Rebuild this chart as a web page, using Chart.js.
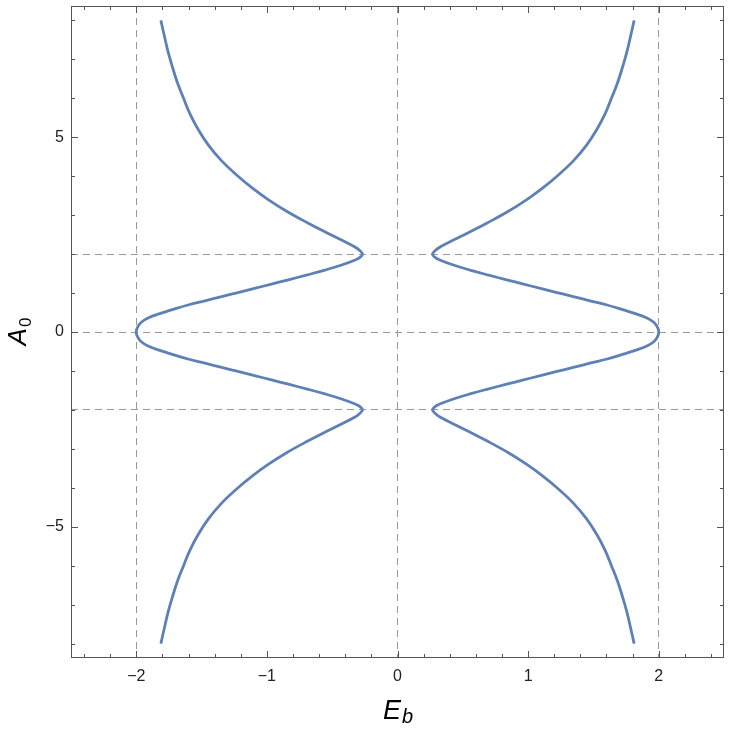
<!DOCTYPE html>
<html lang="en">
<head>
    <meta charset="UTF-8">
    <title>E_b vs A_0</title>
    <script src="https://cdn.jsdelivr.net/npm/chart.js@4.4.1/dist/chart.umd.min.js"></script>
    <style>
        html, body { margin: 0; padding: 0; background: #fff; }
        #wrap { position: relative; width: 731px; height: 730px; }
    </style>
</head>
<body>
    <div id="wrap"><canvas id="myChart"></canvas></div>

    <script>
        // A0 values along each branch (top to bottom)
        const a0Values = [8, 7.6, 7.2, 6.8, 6.4, 6, 5.6, 5.2, 4.8, 4.4, 4, 3.7, 3.4, 3.1, 2.8, 2.55, 2.36, 2.19, 2.09, 2,
            1.92, 1.85, 1.72, 1.59, 1.46, 1.34, 1.23, 1.12, 1.02, 0.91, 0.8, 0.7, 0.56, 0.485, 0.36, 0.25, 0.15, 0.07, 0,
            -0.07, -0.15, -0.25, -0.36, -0.485, -0.56, -0.7, -0.8, -0.91, -1.02, -1.12, -1.23, -1.34, -1.46, -1.59, -1.72, -1.85, -1.92,
            -2, -2.09, -2.19, -2.36, -2.55, -2.8, -3.1, -3.4, -3.7, -4, -4.4, -4.8, -5.2, -5.6, -6, -6.4, -6.8, -7.2, -7.6, -8];

        // Eb
        const ebRight = [1.812, 1.785, 1.757, 1.723, 1.685, 1.638, 1.589, 1.526, 1.448, 1.348, 1.221, 1.113, 0.99, 0.849, 0.687, 0.542, 0.428, 0.329, 0.289, 0.268,
            0.285, 0.324, 0.428, 0.555, 0.698, 0.836, 0.965, 1.095, 1.214, 1.346, 1.474, 1.598, 1.737, 1.808, 1.91, 1.962, 1.986, 1.997, 2,
            1.997, 1.986, 1.962, 1.91, 1.808, 1.737, 1.598, 1.474, 1.346, 1.214, 1.095, 0.965, 0.836, 0.698, 0.555, 0.428, 0.324, 0.285,
            0.268, 0.289, 0.329, 0.428, 0.542, 0.687, 0.849, 0.99, 1.113, 1.221, 1.348, 1.448, 1.526, 1.589, 1.638, 1.685, 1.723, 1.757, 1.785, 1.812];

        // Eb
        const ebLeft = [-1.812, -1.785, -1.757, -1.723, -1.685, -1.638, -1.589, -1.526, -1.448, -1.348, -1.221, -1.113, -0.99, -0.849, -0.687, -0.542, -0.428, -0.329, -0.289, -0.268,
            -0.285, -0.324, -0.428, -0.555, -0.698, -0.836, -0.965, -1.095, -1.214, -1.346, -1.474, -1.598, -1.737, -1.808, -1.91, -1.962, -1.986, -1.997, -2,
            -1.997, -1.986, -1.962, -1.91, -1.808, -1.737, -1.598, -1.474, -1.346, -1.214, -1.095, -0.965, -0.836, -0.698, -0.555, -0.428, -0.324, -0.285,
            -0.268, -0.289, -0.329, -0.428, -0.542, -0.687, -0.849, -0.99, -1.113, -1.221, -1.348, -1.448, -1.526, -1.589, -1.638, -1.685, -1.723, -1.757, -1.785, -1.812];

        // ticks and dashed reference lines
        const xTickLabels = [-2, -1, 0, 1, 2];
        const yTickLabels = [-5, 0, 5];
        const xDashed = [-2, 0, 2];
        const yDashed = [-2, 0, 2];

        const curveColor = '#5e81b5';
        const frameColor = '#555';
        const fontFamily = "'Liberation Sans', Arial, sans-serif";

        function fmt(v) {
            return v < 0 ? '\u2212' + Math.abs(v) : String(v);
        }

        // frame with inward ticks on all four sides, plus axis titles with subscripts
        const frameTicks = {
            id: 'frameTicks',
            afterDraw(chart) {
                const { ctx, chartArea: a, scales: { x, y } } = chart;
                ctx.save();
                ctx.strokeStyle = frameColor;
                ctx.lineWidth = 1;
                ctx.strokeRect(Math.round(a.left) + 0.5, Math.round(a.top) + 0.5,
                    Math.round(a.right - a.left) - 1, Math.round(a.bottom - a.top) - 1);

                ctx.beginPath();
                for (let i = -12; i <= 12; i++) {
                    const v = i / 5;
                    const len = i % 5 === 0 ? 7 : 4;
                    const px = Math.round(x.getPixelForValue(v)) + 0.5;
                    ctx.moveTo(px, a.bottom); ctx.lineTo(px, a.bottom - len);
                    ctx.moveTo(px, a.top); ctx.lineTo(px, a.top + len);
                }
                for (let v = -8; v <= 8; v++) {
                    const len = v % 5 === 0 ? 7 : 4;
                    const py = Math.round(y.getPixelForValue(v)) + 0.5;
                    ctx.moveTo(a.left, py); ctx.lineTo(a.left + len, py);
                    ctx.moveTo(a.right, py); ctx.lineTo(a.right - len, py);
                }
                ctx.stroke();

                // x title: E_b
                ctx.fillStyle = '#000';
                ctx.textBaseline = 'alphabetic';
                ctx.font = 'italic 27px ' + fontFamily;
                const wE = ctx.measureText('E').width;
                ctx.font = 'italic 20px ' + fontFamily;
                const wb = ctx.measureText('b').width;
                const cx = (a.left + a.right) / 2;
                let sx = cx - (wE + wb) / 2;
                ctx.font = 'italic 27px ' + fontFamily;
                ctx.fillText('E', sx, a.bottom + 61);
                ctx.font = 'italic 20px ' + fontFamily;
                ctx.fillText('b', sx + wE + 1, a.bottom + 65);

                // y title: A_0 (rotated)
                ctx.save();
                ctx.translate(a.left - 45, (a.top + a.bottom) / 2);
                ctx.rotate(-Math.PI / 2);
                ctx.font = 'italic 26px ' + fontFamily;
                const wA = ctx.measureText('A').width;
                ctx.font = '17px ' + fontFamily;
                const w0 = ctx.measureText('0').width;
                sx = -(wA + w0) / 2;
                ctx.font = 'italic 26px ' + fontFamily;
                ctx.fillText('A', sx, 0);
                ctx.font = '17px ' + fontFamily;
                ctx.fillText('0', sx + wA + 1, 5);
                ctx.restore();

                ctx.restore();
            }
        };

        const makeLine = (xs) => ({
            data: a0Values.map((a0, i) => ({ x: xs[i], y: a0 })),
            borderColor: curveColor,
            borderWidth: 2.8,
            pointRadius: 0,
            tension: 0.4,
            fill: false
        });

        const myChart = new Chart('myChart', {
            type: 'line',
            data: {
                datasets: [makeLine(ebRight), makeLine(ebLeft)]
            },
            options: {
                responsive: true,
                maintainAspectRatio: false,
                animation: false,
                layout: { padding: { top: 6, right: 7, left: 0, bottom: 0 } },
                plugins: {
                    legend: { display: false },
                    tooltip: { enabled: false }
                },
                scales: {
                    x: {
                        type: 'linear',
                        min: -2.5,
                        max: 2.5,
                        afterFit: (s) => { s.height = 72; s.paddingLeft = 0; s.paddingRight = 0; },
                        afterBuildTicks: (s) => { s.ticks = xTickLabels.map(v => ({ value: v })); },
                        ticks: {
                            color: '#222',
                            padding: 9,
                            font: { size: 16, family: fontFamily },
                            callback: (v) => fmt(v)
                        },
                        grid: {
                            drawTicks: false,
                            lineWidth: 1,
                            color: (c) => xDashed.includes(c.tick && c.tick.value) ? '#999' : 'rgba(0,0,0,0)'
                        },
                        border: { display: false, dash: [7, 5] }
                    },
                    y: {
                        type: 'linear',
                        min: -8.37,
                        max: 8.37,
                        afterFit: (s) => { s.width = 71; s.paddingTop = 0; s.paddingBottom = 0; },
                        afterBuildTicks: (s) => { s.ticks = [-5, -2, 0, 2, 5].map(v => ({ value: v })); },
                        ticks: {
                            color: '#222',
                            padding: 7,
                            font: { size: 16, family: fontFamily },
                            callback: (v) => yTickLabels.includes(v) ? fmt(v) : ''
                        },
                        grid: {
                            drawTicks: false,
                            lineWidth: 1,
                            color: (c) => yDashed.includes(c.tick && c.tick.value) ? '#999' : 'rgba(0,0,0,0)'
                        },
                        border: { display: false, dash: [7, 5] }
                    }
                }
            },
            plugins: [frameTicks]
        });
    </script>
</body>
</html>
